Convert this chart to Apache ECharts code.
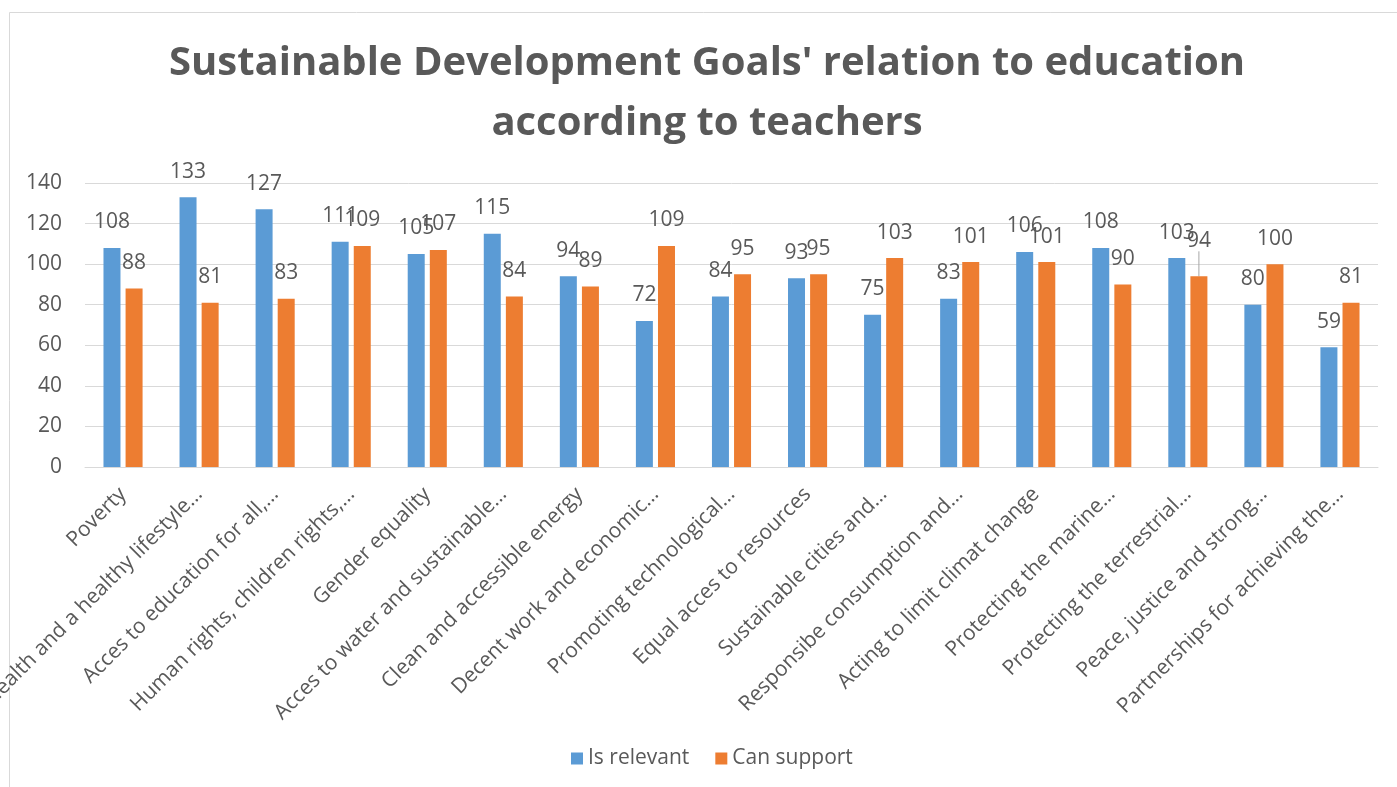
<!DOCTYPE html>
<html>
<head>
<meta charset="utf-8">
<script src="https://cdn.jsdelivr.net/npm/echarts@6/dist/echarts.min.js"></script>
<style>
  html, body { margin: 0; padding: 0; background: #fff; }
  #chart { width: 1397px; height: 787px; }
</style>
</head>
<body>
<div id="chart"></div>
<script>
// Goals as shown on the axis (long names shortened with an ellipsis)
const categories = [
  "Poverty",
  "Health and a healthy lifestyle…",
  "Acces to education for all,…",
  "Human rights, children rights,…",
  "Gender equality",
  "Acces to water and sustainable…",
  "Clean and accessible energy",
  "Decent work and economic…",
  "Promoting technological…",
  "Equal acces to resources",
  "Sustainable cities and…",
  "Responsibe consumption and…",
  "Acting to limit climat change",
  "Protecting the marine…",
  "Protecting the terrestrial…",
  "Peace, justice and strong…",
  "Partnerships for achieving the…"
];
const isRelevant = [108, 133, 127, 111, 105, 115, 94, 72, 84, 93, 75, 83, 106, 108, 103, 80, 59];
const canSupport = [88, 81, 83, 109, 107, 84, 89, 109, 95, 95, 103, 101, 101, 90, 94, 100, 81];
const yTicks = [0, 20, 40, 60, 80, 100, 120, 140];
const titleLines = ["Sustainable Development Goals' relation to education", "according to teachers"];

const FONT = "'Open Sans', sans-serif";
const TEXT = '#595959';
const LIFTED = 14; // the terrestrial goal's label is lifted and tied back with a leader line

const chart = echarts.init(document.getElementById('chart'), null, { renderer: 'canvas' });

const valueLabel = {
  show: true,
  position: 'top',
  distance: 15,
  color: TEXT,
  fontFamily: FONT,
  fontSize: 21
};

const canSupportItems = canSupport.map(function (v, i) {
  if (i !== LIFTED) return v;
  return {
    value: v,
    labelLine: { show: true, lineStyle: { color: '#A6A6A6', width: 1 } }
  };
});

chart.setOption({
  backgroundColor: '#ffffff',
  animation: false,
  graphic: [
    {
      type: 'rect',
      shape: { x: 9.5, y: 12.5, width: 1400, height: 800 },
      style: { fill: 'none', stroke: '#D9D9D9', lineWidth: 1 },
      silent: true
    },
    {
      type: 'text',
      x: 707,
      y: 34,
      silent: true,
      style: {
        text: titleLines.join('\n'),
        align: 'center',
        verticalAlign: 'top',
        fontFamily: FONT,
        fontWeight: 'bold',
        fontSize: 40,
        lineHeight: 60,
        fill: TEXT
      }
    }
  ],
  legend: {
    data: ['Is relevant', 'Can support'],
    left: 571,
    top: 748,
    padding: 0,
    icon: 'rect',
    itemWidth: 12,
    itemHeight: 12,
    itemGap: 26,
    textStyle: { fontFamily: FONT, fontSize: 21, color: TEXT }
  },
  grid: { left: 85, right: 19, top: 183, bottom: 320, containLabel: false, outerBoundsMode: 'none' },
  xAxis: {
    type: 'category',
    data: categories,
    axisLine: { lineStyle: { color: '#D9D9D9', width: 1 } },
    axisTick: { show: false },
    axisLabel: {
      interval: 0,
      rotate: 45,
      margin: 24,
      color: TEXT,
      fontFamily: FONT,
      fontSize: 21
    }
  },
  yAxis: {
    type: 'value',
    min: yTicks[0],
    max: yTicks[yTicks.length - 1],
    interval: 20,
    axisLine: { show: false },
    axisTick: { show: false },
    splitLine: { lineStyle: { color: '#D9D9D9', width: 1 } },
    axisLabel: { color: TEXT, fontFamily: FONT, fontSize: 21, margin: 23 }
  },
  series: [
    {
      name: 'Is relevant',
      type: 'bar',
      data: isRelevant,
      barWidth: 17,
      barGap: '30%',
      itemStyle: { color: '#5B9BD5' },
      label: valueLabel
    },
    {
      name: 'Can support',
      type: 'bar',
      data: canSupportItems,
      barWidth: 17,
      itemStyle: { color: '#ED7D31' },
      label: valueLabel,
      labelLayout: function (p) {
        if (p.dataIndex === LIFTED) return { dy: -10 };
        return {};
      }
    }
  ]
});
</script>
</body>
</html>
